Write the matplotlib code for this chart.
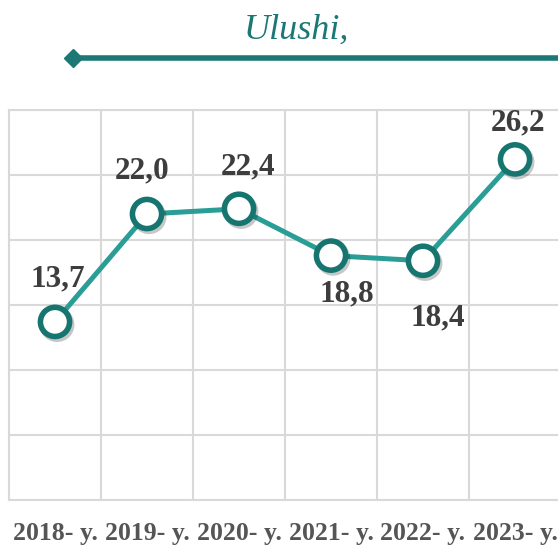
import matplotlib
matplotlib.use("Agg")
import matplotlib.pyplot as plt
import matplotlib.patheffects as pe
from matplotlib.lines import Line2D
import numpy as np

# ── Data ──────────────────────────────────────────────────────────────────────
years  = ['2018- y.', '2019- y.', '2020- y.', '2021- y.', '2022- y.', '2023- y.']
values = [13.7, 22.0, 22.4, 18.8, 18.4, 26.2]
labels = ['13,7', '22,0', '22,4', '18,8', '18,4', '26,2']
title  = 'Ulushi,'

# label offsets (pixels) from the marker centre
label_offsets = [(3, 43), (-5, 43), (9, 42), (16, -38), (15, -57), (3, 36)]

# ── Style ─────────────────────────────────────────────────────────────────────
LINE_COL   = '#2a9d96'
EDGE_COL   = '#177570'
TITLE_COL  = '#1b7875'
GRID_COL   = '#d9d9d9'
LABEL_COL  = '#3d3d3d'
TICK_COL   = '#555555'
SERIF      = 'Liberation Serif'

W, H = 558, 545
fig = plt.figure(figsize=(W / 100, H / 100), dpi=100)
fig.patch.set_facecolor('white')

ax = fig.add_axes([9 / W, 45 / H, 552 / W, 390 / H])
x = np.arange(len(years))

ax.set_xlim(-0.5, len(years) - 0.5)
ax.set_ylim(0, 30)
ax.set_yticks(np.arange(0, 31, 5))
ax.set_xticks(x)
ax.set_xticks(np.arange(-0.5, len(years)), minor=True)
ax.set_xticklabels(years, fontsize=18.5, fontweight='bold', family=SERIF, color=TICK_COL)
ax.tick_params(axis='x', which='both', length=0, pad=16)
ax.tick_params(axis='y', which='both', length=0, labelleft=False)
ax.grid(axis='y', color=GRID_COL, linewidth=1.5, zorder=0)
ax.grid(axis='x', which='minor', color=GRID_COL, linewidth=1.5, zorder=0)
for spine in ax.spines.values():
    spine.set_edgecolor(GRID_COL)
    spine.set_linewidth(1.5)

# series
ax.plot(x, values, color=LINE_COL, linewidth=3.6, zorder=3, solid_capstyle='round')
ax.plot(x, values, linestyle='none', marker='o', markersize=21,
        markerfacecolor='white', markeredgecolor=EDGE_COL, markeredgewidth=4,
        zorder=4,
        path_effects=[pe.SimpleLineShadow(offset=(1.5, -2), alpha=0.22), pe.Normal()])

for xi, v, lab, (dx, dy) in zip(x, values, labels, label_offsets):
    ax.annotate(lab, (xi, v), xytext=(dx, dy), textcoords='offset pixels',
                ha='center', va='center', fontsize=22.5, fontweight='bold',
                family=SERIF, color=LABEL_COL, zorder=5)

# header
fig.text(296 / W, 1 - 30 / H, title, ha='center', va='center', fontsize=26,
         style='italic', family=SERIF, color=TITLE_COL)
fig.add_artist(Line2D([73 / W, 1.0], [1 - 58 / H, 1 - 58 / H], color=TITLE_COL,
                      linewidth=4, marker='D', markersize=9, markevery=[0],
                      transform=fig.transFigure))

plt.savefig('out.png', dpi=100, facecolor='white')
